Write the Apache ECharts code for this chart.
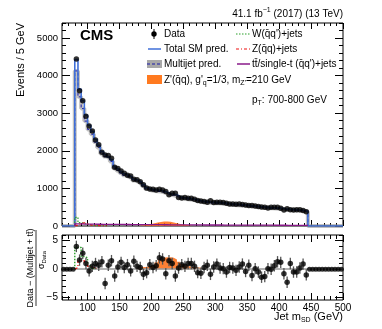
<!DOCTYPE html>
<html>
<head>
<meta charset="utf-8">
<script src="https://cdn.jsdelivr.net/npm/echarts@6/dist/echarts.min.js"></script>
<style>
html, body { margin: 0; padding: 0; background: #fff; }
#chart { width: 382px; height: 329px; }
</style>
</head>
<body>
<div id="chart"></div>
<script>
// jet mass binning (GeV)
var binWidth = 5;
var firstBinLow = 80;

// events per bin, 80..445 GeV
var dataCounts = [4440, 3600, 3330, 2920, 2660, 2530, 2290, 2160, 1960, 1890,
  1875, 1800, 1560, 1530, 1460, 1400, 1350, 1330, 1245, 1230,
  1180, 1095, 1010, 985, 975, 960, 980, 955, 915, 830,
  870, 868, 760, 745, 755, 740, 738, 712, 680, 665,
  650, 632, 672, 625, 632, 630, 622, 605, 588, 588,
  578, 586, 575, 560, 545, 542, 533, 516, 505, 498,
  482, 498, 500, 496, 472, 428, 462, 430, 428, 432,
  435, 410, 382];

var multijetPred = [4125, 3435, 3123, 2790, 2570, 2439, 2233, 2091, 1925, 1847,
  1796, 1717, 1538, 1478, 1409, 1350, 1300, 1271, 1212, 1172,
  1133, 1064, 984, 950, 930, 921, 916, 897, 867, 828,
  818, 799, 749, 730, 720, 706, 696, 676, 657, 637,
  628, 618, 613, 606, 602, 596, 590, 578, 568, 561,
  554, 548, 542, 533, 524, 517, 508, 498, 488, 481,
  474, 469, 467, 460, 450, 440, 433, 423, 416, 409,
  404, 395, 377];

var wJets = [230, 90, 70, 50, 30, 18, 12, 8, 6, 5];
var zJets = [20, 60, 85, 60, 30, 15, 8, 5, 4, 3];
var ttbar = [55, 55, 52, 50, 50, 48, 47, 46, 45, 45,
  44, 43, 42, 42, 41, 40, 40, 39, 38, 38,
  37, 36, 36, 35, 35, 34, 34, 33, 33, 32,
  32, 31, 31, 30, 30, 29, 29, 29, 28, 28,
  27, 27, 27, 26, 26, 26, 25, 25, 25, 24,
  24, 24, 23, 23, 23, 22, 22, 22, 22, 21,
  21, 21, 20, 20, 20, 20, 19, 19, 19, 19,
  18, 18, 18];

var zprimeLow = 180;
var zprime = [10, 20, 32, 50, 70, 90, 108, 118, 120, 112, 95, 75, 55, 38, 24, 14, 8];

// lower panel: (Data - (Multijet + tt)) / sigma_Data
var pulls = [4.0, 1.6, 2.8, 1.0, -0.3, 0.5, 1.0, 0.7, 1.3, -2.5,
  0.7, 1.5, -1.2, 0.4, 1.2, 0.3, 0.8, -0.3, 1.4, 0.5,
  0.3, -0.9, -0.6, 0.8, 0.3, 0.6, 2.0, 1.8, -0.8, 1.5,
  1.0, -1.2, 0.2, 0.8, 0.5, 1.0, 1.0, 0.5, -0.6, -0.7,
  0.3, 0.7, -0.9, 0.4, 0.9, 0.2, 0.1, -0.5, 0.3, 0.2,
  -0.2, 0.4, 0.9, -0.4, 0.7, -1.1, 0.1, -0.5, -1.4, -1.3,
  0.1, 0.0, 0.6, 1.3, 1.2, -0.8, -2.3, 1.0, -0.5, -0.5,
  0.2, 0.9, -1.0];
var emptyBinCenters = [62.5, 67.5, 72.5, 77.5, 447.5, 452.5, 457.5, 462.5, 467.5,
  472.5, 477.5, 482.5, 487.5, 492.5, 497.5];
var pullW = [3.8, 3.8, 2.2, 2.0, 0.6, 0.2];
var pullZ = [0.3, 1.5, 1.5, 0.9, 0.5, 0.3, 0.1];
var pullZprimeLow = 175;
var pullZprime = [0.3, 0.35, 0.4, 0.45, 0.55, 0.8, 1.2, 1.7, 2.0, 2.1, 2.1,
  2.0, 1.7, 1.3, 0.9, 0.6, 0.5, 0.4, 0.35, 0.3, 0.2];

// tick labels
var massTicks = [100, 150, 200, 250, 300, 350, 400, 450, 500];
var eventTicks = [0, 1000, 2000, 3000, 4000, 5000];
var pullTicks = [-5, 0, 5];

var font = "'Liberation Sans', Arial, Helvetica, sans-serif";

function steps(vals, lo, from, to) {
  var pts = [];
  if (from != null) pts.push([from, 0]);
  pts.push([lo, 0]);
  for (var i = 0; i < vals.length; i++) pts.push([lo + i * binWidth, vals[i]]);
  pts.push([lo + vals.length * binWidth, 0]);
  if (to != null) pts.push([to, 0]);
  return pts;
}
function seq(a, b, s) {
  var r = [];
  for (var v = a; v <= b + 1e-9; v += s) r.push(Math.round(v * 100) / 100);
  return r;
}

var totalPred = multijetPred.map(function (m, i) {
  return m + (wJets[i] || 0) + (zJets[i] || 0) + ttbar[i];
});

function tickAxis(grid, pos, min, max, ticks, len, labels) {
  var ax = {
    type: 'value', gridIndex: grid, position: pos, min: min, max: max,
    axisLine: { show: false, onZero: false },
    splitLine: { show: false },
    axisTick: { show: true, inside: true, length: len, customValues: ticks,
      lineStyle: { color: '#000', width: 1 } },
    axisLabel: { show: false }
  };
  if (labels) {
    ax.axisLabel = { show: true, customValues: labels, fontSize: 10, color: '#000',
      fontFamily: font, margin: pos === 'bottom' ? 3 : 4,
      formatter: function (v) { return v < 0 ? '\u2212' + (-v) : String(v); } };
  }
  return ax;
}

var xMinor = seq(60, 500, 10);
var xMajor = seq(100, 500, 50);

var xAxes = [
  tickAxis(0, 'bottom', 60, 500, xMajor, 6),
  tickAxis(0, 'bottom', 60, 500, xMinor, 3),
  tickAxis(0, 'top', 60, 500, xMajor, 6),
  tickAxis(0, 'top', 60, 500, xMinor, 3),
  tickAxis(1, 'bottom', 60, 500, xMajor, 7, massTicks),
  tickAxis(1, 'bottom', 60, 500, xMinor, 4),
  tickAxis(1, 'top', 60, 500, xMajor, 7),
  tickAxis(1, 'top', 60, 500, xMinor, 4)
];
var yAxes = [
  tickAxis(0, 'left', 0, 5400, eventTicks, 8, eventTicks),
  tickAxis(0, 'left', 0, 5400, seq(0, 5400, 200), 4),
  tickAxis(0, 'right', 0, 5400, eventTicks, 8),
  tickAxis(0, 'right', 0, 5400, seq(0, 5400, 200), 4),
  tickAxis(1, 'left', -5.4, 6, pullTicks, 8, pullTicks),
  tickAxis(1, 'left', -5.4, 6, seq(-5, 6, 1), 4),
  tickAxis(1, 'right', -5.4, 6, pullTicks, 8),
  tickAxis(1, 'right', -5.4, 6, seq(-5, 6, 1), 4)
];
yAxes[0].axisLabel.fontSize = 9.5;

function lineSeries(data, color, width, type, xi, yi, z) {
  return {
    type: 'line', xAxisIndex: xi, yAxisIndex: yi, step: 'end', data: data,
    showSymbol: false, symbol: 'none', silent: true, z: z || 2,
    lineStyle: { color: color, width: width, type: type }
  };
}

var dataPts = dataCounts.map(function (v, i) {
  return [firstBinLow + (i + 0.5) * binWidth, v];
});
var pullPts = pulls.map(function (v, i) {
  return [firstBinLow + (i + 0.5) * binWidth, v];
});

var series = [
  // upper panel
  {
    type: 'line', xAxisIndex: 0, yAxisIndex: 0, step: 'end', symbol: 'none', silent: true, z: 1,
    data: steps(zprime, zprimeLow),
    lineStyle: { width: 0 }, areaStyle: { color: '#ff6a10', opacity: 0.85 }
  },
  lineSeries(steps(multijetPred, firstBinLow, 60, 500), 'rgba(140,140,140,0.55)', 4, 'solid', 0, 0, 2),
  lineSeries(steps(multijetPred, firstBinLow), '#1a1aa8', 1, [3, 2], 0, 0, 3),
  lineSeries(steps(totalPred, firstBinLow, 60, 500), '#3f6fd8', 1.6, 'solid', 0, 0, 4),
  lineSeries(steps(wJets, firstBinLow), '#2aa02a', 1.2, [1.5, 1.5], 0, 0, 5),
  lineSeries(steps(zJets, firstBinLow), '#ee1111', 1.2, [3, 2, 1, 2], 0, 0, 5),
  lineSeries(steps(ttbar, firstBinLow), '#8a1a8a', 1.3, 'solid', 0, 0, 5),
  {
    type: 'scatter', xAxisIndex: 0, yAxisIndex: 0, data: dataPts, symbolSize: 5.5,
    itemStyle: { color: '#000' }, silent: true, z: 6
  },
  // lower panel
  {
    type: 'line', xAxisIndex: 4, yAxisIndex: 4, step: 'end', symbol: 'none', silent: true, z: 1,
    data: steps(pullZprime, pullZprimeLow),
    lineStyle: { width: 0 }, areaStyle: { color: '#ff6a10', opacity: 0.85 }
  },
  lineSeries(steps(pullW, firstBinLow), '#2aa02a', 1.4, [1.5, 1.5], 4, 4, 3),
  lineSeries(steps(pullZ, firstBinLow), '#ee1111', 1.3, [3, 2, 1, 2], 4, 4, 3),
  {
    type: 'custom', xAxisIndex: 4, yAxisIndex: 4, data: pullPts, silent: true, z: 4,
    renderItem: function (params, api) {
      var x = api.value(0), y = api.value(1);
      var a = api.coord([x, y - 1]), b = api.coord([x, y + 1]);
      return { type: 'line', shape: { x1: a[0], y1: a[1], x2: b[0], y2: b[1] },
        style: { stroke: '#555', lineWidth: 1.3 } };
    }
  },
  {
    type: 'scatter', xAxisIndex: 4, yAxisIndex: 4, data: pullPts, symbolSize: 5.5,
    itemStyle: { color: '#000' }, silent: true, z: 5,
    markLine: { silent: true, symbol: 'none', label: { show: false }, z: 2,
      lineStyle: { color: '#999', type: 'solid', width: 1.5 },
      data: [{ yAxis: 0 }] }
  },
  {
    type: 'scatter', xAxisIndex: 4, yAxisIndex: 4,
    data: emptyBinCenters.map(function (c) { return [c, 0]; }),
    symbolSize: 5, itemStyle: { color: '#000' }, silent: true, z: 5
  }
];

var txt = { fontFamily: font, fontSize: 10, fill: '#000', lineHeight: 14 };
function T(x, y, text, extra) {
  var st = Object.assign({}, txt, { text: text, verticalAlign: 'middle',
    rich: {
      sub: { fontSize: 7, lineHeight: 7, verticalAlign: 'bottom', fontFamily: font },
      sup: { fontSize: 7, lineHeight: 7, verticalAlign: 'top', fontFamily: font }
    } }, extra || {});
  return { type: 'text', x: x, y: y, silent: true, style: st };
}

var yTitle = T(21, 23, 'Events / 5 GeV', { align: 'right', fontSize: 11 });
yTitle.rotation = Math.PI / 2;

var graphic = [
  T(343, 14, '41.1 fb{sup|\u22121} (2017) (13 TeV)', { align: 'right' }),
  T(80, 36, 'CMS', { fontSize: 15, fontWeight: 'bold', lineHeight: 18 }),
  // legend markers
  { type: 'line', silent: true, shape: { x1: 154, y1: 29, x2: 154, y2: 39 }, style: { stroke: '#000', lineWidth: 1 } },
  { type: 'circle', silent: true, shape: { cx: 154, cy: 34, r: 2.7 }, style: { fill: '#000' } },
  { type: 'line', silent: true, shape: { x1: 148, y1: 49, x2: 161, y2: 49 }, style: { stroke: '#3f6fd8', lineWidth: 1.5 } },
  { type: 'rect', silent: true, shape: { x: 147, y: 60, width: 15, height: 8 }, style: { fill: '#a8a8a8' } },
  { type: 'line', silent: true, shape: { x1: 147, y1: 64, x2: 162, y2: 64 }, style: { stroke: '#1a1aa8', lineWidth: 1, lineDash: [3, 2] } },
  { type: 'rect', silent: true, shape: { x: 147, y: 75, width: 15, height: 9 }, style: { fill: '#ff7a20' } },
  { type: 'line', silent: true, shape: { x1: 236, y1: 34, x2: 250, y2: 34 }, style: { stroke: '#2aa02a', lineWidth: 1.2, lineDash: [1.5, 1.5] } },
  { type: 'line', silent: true, shape: { x1: 236, y1: 49, x2: 250, y2: 49 }, style: { stroke: '#ee1111', lineWidth: 1.2, lineDash: [3, 2, 1, 2] } },
  { type: 'line', silent: true, shape: { x1: 237, y1: 64, x2: 250, y2: 64 }, style: { stroke: '#8a1a8a', lineWidth: 1.5 } },
  // legend texts
  T(164, 34, 'Data'),
  T(164, 49, 'Total SM pred.'),
  T(164, 64, 'Multijet pred.'),
  T(164, 80, "Z'(q\u0304q), g'{sub|q}=1/3, m{sub|Z'}=210 GeV"),
  T(252, 34, "W(q\u0304q')+jets"),
  T(252, 49, 'Z(q\u0304q)+jets'),
  T(252, 64, "tt\u0304/single-t (q\u0304q')+jets"),
  T(252, 100, 'p{sub|T}: 700-800 GeV'),
  // axis titles
  yTitle,
  T(343, 317, 'Jet m{sub|SD} (GeV)', { align: 'right', fontSize: 11 }),
  {
    type: 'group', x: 36, y: 268, rotation: Math.PI / 2, silent: true,
    children: [
      T(0, -5.5, 'Data \u2212 (Multijet + tt\u0304)', { align: 'center', fontSize: 9, lineHeight: 10 }),
      { type: 'line', shape: { x1: -38, y1: 0, x2: 38, y2: 0 }, style: { stroke: '#000', lineWidth: 0.8 } },
      T(8, 6, '\u03c3{sub|Data}', { align: 'center', fontSize: 9, lineHeight: 10,
        rich: { sub: { fontSize: 6, lineHeight: 6, verticalAlign: 'bottom', fontFamily: font } } })
    ]
  }
];

var chart = echarts.init(document.getElementById('chart'), null, { renderer: 'canvas' });
chart.setOption({
  animation: false,
  backgroundColor: '#fff',
  grid: [
    { left: 62, top: 23, width: 281, height: 203, show: true, borderColor: '#000', borderWidth: 1,
      backgroundColor: 'transparent', outerBoundsMode: 'none', containLabel: false },
    { left: 62, top: 235, width: 281, height: 65, show: true, borderColor: '#000', borderWidth: 1,
      backgroundColor: 'transparent', outerBoundsMode: 'none', containLabel: false }
  ],
  xAxis: xAxes,
  yAxis: yAxes,
  series: series,
  graphic: graphic
});
</script>
</body>
</html>
